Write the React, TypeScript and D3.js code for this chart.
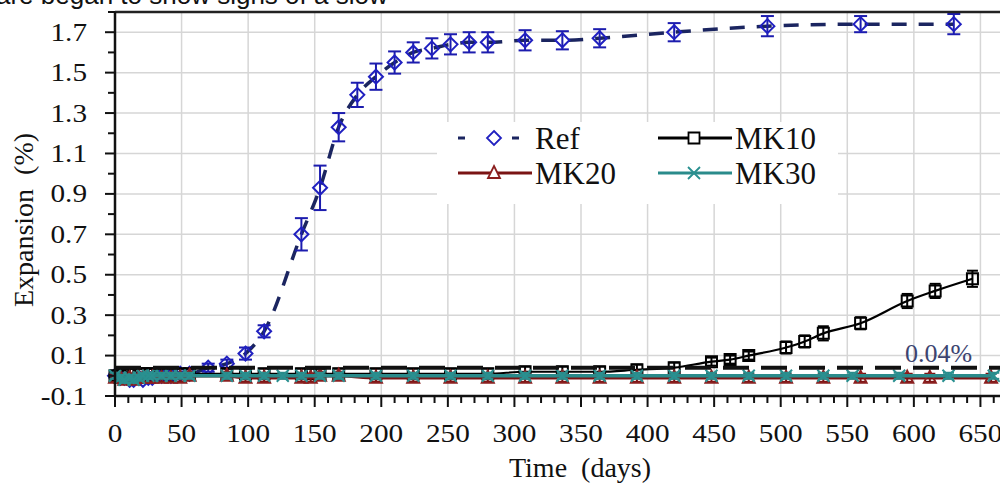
import React from 'react';
import * as d3 from 'd3';

// days / expansion (%) / error (±) per series
const refDays = [0, 4, 7, 11, 14, 18, 21, 25, 28, 35, 42, 49, 56, 70, 84, 98, 112, 140, 154, 168, 182, 196, 210, 224, 238, 252, 266, 280, 308, 336, 364, 420, 490, 560, 630];
const refVals = [0, -0.01, -0.01, -0.02, -0.02, -0.01, -0.02, -0.01, -0.01, 0, 0, 0.01, 0.01, 0.04, 0.06, 0.11, 0.22, 0.7, 0.93, 1.23, 1.39, 1.48, 1.55, 1.6, 1.62, 1.64, 1.65, 1.65, 1.66, 1.66, 1.67, 1.7, 1.73, 1.74, 1.74];
const refErr = [0.01, 0.01, 0.01, 0.01, 0.01, 0.01, 0.01, 0.01, 0.01, 0.01, 0.01, 0.01, 0.01, 0.02, 0.02, 0.03, 0.03, 0.08, 0.11, 0.07, 0.06, 0.065, 0.055, 0.05, 0.05, 0.05, 0.05, 0.05, 0.05, 0.045, 0.045, 0.045, 0.05, 0.04, 0.05];

const mk10Days = [0, 4, 7, 11, 14, 18, 21, 25, 28, 35, 42, 49, 56, 84, 98, 112, 140, 147, 154, 168, 196, 224, 252, 280, 308, 336, 364, 392, 420, 448, 462, 476, 504, 518, 532, 560, 595, 616, 644];
const mk10Vals = [0, 0, 0.01, 0.01, 0.01, 0.01, 0.01, 0.01, 0.01, 0.01, 0.01, 0.01, 0.01, 0.01, 0.01, 0.01, 0.01, 0.01, 0.01, 0.01, 0.01, 0.01, 0.01, 0.01, 0.02, 0.02, 0.02, 0.03, 0.04, 0.07, 0.08, 0.1, 0.14, 0.17, 0.21, 0.26, 0.37, 0.42, 0.48];
const mk10Err = [0.025, 0.025, 0.025, 0.025, 0.025, 0.025, 0.025, 0.025, 0.025, 0.025, 0.025, 0.025, 0.025, 0.025, 0.025, 0.025, 0.025, 0.025, 0.025, 0.025, 0.025, 0.025, 0.025, 0.025, 0.025, 0.025, 0.025, 0.025, 0.025, 0.02, 0.02, 0.02, 0.03, 0.03, 0.035, 0.03, 0.035, 0.035, 0.04];

const mk20Days = [0, 4, 7, 11, 14, 18, 21, 25, 28, 35, 42, 49, 56, 84, 98, 112, 140, 147, 154, 168, 196, 224, 252, 280, 308, 336, 364, 392, 420, 448, 476, 504, 532, 560, 595, 612, 658];
const mk20Vals = [-0.01, -0.01, -0.02, -0.01, -0.02, -0.01, -0.01, -0.01, -0.01, -0.01, -0.01, -0.01, 0, 0, -0.01, -0.01, -0.01, -0.01, 0, 0, -0.01, -0.01, -0.01, -0.01, -0.01, -0.01, -0.01, -0.01, -0.01, -0.01, -0.01, -0.01, -0.01, -0.01, -0.01, -0.01, -0.01];
const mk20Err = [0.02, 0.02, 0.02, 0.02, 0.02, 0.02, 0.02, 0.02, 0.02, 0.02, 0.02, 0.02, 0.02, 0.02, 0.02, 0.02, 0.02, 0.02, 0.02, 0.02, 0.02, 0.02, 0.02, 0.02, 0.02, 0.02, 0.02, 0.02, 0.02, 0.02, 0.02, 0.02, 0.02, 0.02, 0.02, 0.02, 0.02];

const mk30Days = [0, 4, 7, 11, 14, 18, 21, 25, 28, 35, 42, 49, 56, 84, 98, 112, 126, 140, 154, 168, 196, 224, 252, 280, 308, 336, 364, 392, 420, 448, 476, 504, 532, 554, 589, 626, 660];
const mk30Vals = [0, -0.01, -0.02, -0.01, -0.02, -0.01, 0, 0, 0, 0, 0, 0, 0, 0, 0, 0, 0, 0, 0, 0, 0, 0, 0, 0, 0, 0, 0, 0, 0, 0, 0, 0, 0, 0, 0, 0, 0];
const mk30Err = [0.015, 0.015, 0.015, 0.015, 0.015, 0.015, 0.015, 0.015, 0.015, 0.015, 0.015, 0.015, 0.015, 0.015, 0.015, 0.015, 0.015, 0.015, 0.015, 0.015, 0.015, 0.015, 0.015, 0.015, 0.015, 0.015, 0.015, 0.015, 0.015, 0.015, 0.015, 0.015, 0.015, 0.015, 0.015, 0.015, 0.015];

const limitValue = 0.04;
const limitLabel = '0.04%';

const xMajorTicks = [0, 50, 100, 150, 200, 250, 300, 350, 400, 450, 500, 550, 600, 650];
const yMajorTicks = [-0.1, 0.1, 0.3, 0.5, 0.7, 0.9, 1.1, 1.3, 1.5, 1.7];
const yMinorTicks = [0, 0.2, 0.4, 0.6, 0.8, 1.0, 1.2, 1.4, 1.6, 1.8];

const legendNames = ['Ref', 'MK10', 'MK20', 'MK30'];

const x = d3.scaleLinear().domain([0, 700]).range([115, 1047]);
const y = d3.scaleLinear().domain([-0.1, 1.8]).range([396, 12]);

type Pt = { d: number; v: number; e: number };
const zip = (days: number[], vals: number[], errs: number[]): Pt[] =>
  days.map((d, i) => ({ d, v: vals[i], e: errs[i] }));

const line = d3.line<Pt>().x(p => x(p.d)).y(p => y(p.v)).curve(d3.curveMonotoneX);

const diamond = 'M0,-7L7,0L0,7L-7,0Z';
const square = 'M-5.5,-5.5H5.5V5.5H-5.5Z';
const triangle = 'M0,-7L6,5H-6Z';
const cross = 'M-6,-6L6,6M-6,6L6,-6';

const series = [
  { name: 'Ref', pts: zip(refDays, refVals, refErr), line: '#1b2560', mark: '#2020c0', err: '#1c1cae', shape: diamond, dash: '15,12', lw: 3.5, cap: 6.5, mw: 2 },
  { name: 'MK10', pts: zip(mk10Days, mk10Vals, mk10Err), line: '#000', mark: '#000', err: '#000', shape: square, dash: null, lw: 2.2, cap: 5.5, mw: 2 },
  { name: 'MK20', pts: zip(mk20Days, mk20Vals, mk20Err), line: '#7a1414', mark: '#8b1f1f', err: '#7a1414', shape: triangle, dash: null, lw: 3.5, cap: 5.5, mw: 2 },
  { name: 'MK30', pts: zip(mk30Days, mk30Vals, mk30Err), line: '#2a8b8b', mark: '#2a9090', err: '#2a8b8b', shape: cross, dash: null, lw: 3.5, cap: 5.5, mw: 2 },
];

const serif = '"Liberation Serif", "Times New Roman", serif';

export default function App() {
  const xMinor = d3.range(0, 701, 10);
  const [x0, x1] = x.range();
  const [y0, y1] = y.range();

  return (
    <svg width={1000} height={485} style={{ position: 'absolute', left: 0, top: 0, background: '#fff' }}>
      <rect width={1000} height={485} fill="#fff" />
      <text x={-4} y={4} fontFamily='"Liberation Sans", Arial, sans-serif' fontSize={26} fill="#111">
        are began to show signs of a slow
      </text>

      {/* grid */}
      <g stroke="#d6d6d6" strokeWidth={1.5}>
        {d3.range(50, 701, 50).map(t => (
          <line key={'gx' + t} x1={x(t)} x2={x(t)} y1={y1} y2={y0} />
        ))}
        {yMajorTicks.filter(t => t > -0.1).map(t => (
          <line key={'gy' + t} x1={x0} x2={x1} y1={y(t)} y2={y(t)} />
        ))}
      </g>

      {/* legend background */}
      <rect x={437} y={122} width={401} height={82} fill="#fff" />

      {/* series */}
      {series.map(s => (
        <g key={s.name}>
          <path d={line(s.pts) || ''} fill="none" stroke={s.line} strokeWidth={s.lw} strokeDasharray={s.dash || undefined} />
          <g stroke={s.err} strokeWidth={2}>
            {s.pts.map((p, i) => (
              <g key={i}>
                <line x1={x(p.d)} x2={x(p.d)} y1={y(p.v + p.e)} y2={y(p.v - p.e)} />
                <line x1={x(p.d) - s.cap} x2={x(p.d) + s.cap} y1={y(p.v + p.e)} y2={y(p.v + p.e)} />
                <line x1={x(p.d) - s.cap} x2={x(p.d) + s.cap} y1={y(p.v - p.e)} y2={y(p.v - p.e)} />
              </g>
            ))}
          </g>
          {s.pts.map((p, i) => (
            <path key={i} d={s.shape} transform={`translate(${x(p.d)},${y(p.v)})`} fill="none" stroke={s.mark} strokeWidth={s.mw} />
          ))}
        </g>
      ))}

      {/* limit line */}
      <line x1={x0} x2={x1} y1={y(limitValue)} y2={y(limitValue)} stroke="#111" strokeWidth={4} strokeDasharray="26,12" />
      <text x={905} y={362} fontFamily={serif} fontSize={26} fill="#3c4470">{limitLabel}</text>

      {/* frame & axes */}
      <line x1={x0} x2={x1} y1={y1} y2={y1} stroke="#222" strokeWidth={2.5} />
      <line x1={x0} x2={x0} y1={y1} y2={y0} stroke="#111" strokeWidth={2.5} />
      <line x1={x0} x2={x1} y1={y0} y2={y0} stroke="#111" strokeWidth={2.5} />

      <g stroke="#111" strokeWidth={2}>
        {xMinor.map(t => (
          <line key={'xm' + t} x1={x(t)} x2={x(t)} y1={y0} y2={y0 + (t % 50 === 0 ? 11 : 7)} />
        ))}
        {yMajorTicks.map(t => (
          <line key={'ym' + t} x1={x0 - 10} x2={x0} y1={y(t)} y2={y(t)} />
        ))}
        {yMinorTicks.map(t => (
          <line key={'yn' + t} x1={x0 - 7} x2={x0} y1={y(t)} y2={y(t)} />
        ))}
      </g>

      <g fontFamily={serif} fontSize={25} fill="#111">
        {xMajorTicks.map(t => (
          <text key={'xl' + t} textAnchor="middle" transform={`translate(${x(t)},442) scale(1.17,1)`}>{t}</text>
        ))}
        {yMajorTicks.map(t => (
          <text key={'yl' + t} textAnchor="end" transform={`translate(87,${y(t) + 8.5}) scale(1.17,1)`}>{t.toFixed(1)}</text>
        ))}
      </g>

      <text x={580} y={477} textAnchor="middle" fontFamily={serif} fontSize={28} fill="#111" style={{ whiteSpace: 'pre' }}>
        {'Time  (days)'}
      </text>
      <text transform="translate(33,220) rotate(-90)" textAnchor="middle" fontFamily={serif} fontSize={28} fill="#111" style={{ whiteSpace: 'pre' }}>
        {'Expansion  (%)'}
      </text>

      {/* legend */}
      {series.map((s, i) => {
        const lx = i % 2 === 0 ? 458 : 658;
        const ly = i < 2 ? 138 : 173;
        return (
          <g key={'lg' + s.name}>
            <line x1={lx} x2={lx + 74} y1={ly} y2={ly} stroke={s.line} strokeWidth={s.dash ? 3 : 3} strokeDasharray={s.dash ? '7,20' : undefined} />
            {s.dash && <rect x={lx + 26} y={ly - 9} width={22} height={18} fill="#fff" />}
            <path d={s.shape} transform={`translate(${lx + 36},${ly})`} fill={s.shape === cross ? 'none' : '#fff'} stroke={s.mark} strokeWidth={1.8} />
            <text x={lx + 77} y={ly + 11} fontFamily={serif} fontSize={31} fill="#111">{legendNames[i]}</text>
          </g>
        );
      })}
    </svg>
  );
}
